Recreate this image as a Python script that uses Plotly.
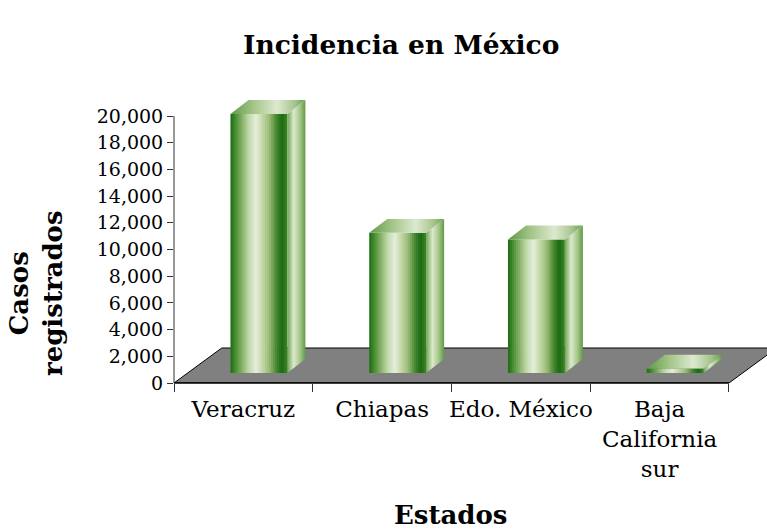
import plotly.graph_objects as go

# ---------------- data ----------------
estados = ["Veracruz", "Chiapas", "Edo. México", "Baja<br>California<br>sur"]
casos = [19400, 10500, 10000, 330]
y_ticks = [0, 2000, 4000, 6000, 8000, 10000, 12000, 14000, 16000, 18000, 20000]

titulo = "Incidencia en México"
titulo_x = "Estados"
titulo_y = "Casos<br>registrados"

# ---------------- style / geometry ----------------
FONT = "DejaVu Serif"
X_RANGE = [-0.5, 3.774]
Y_RANGE = [0, 21948]
XSHIFT = 0.112      # depth shift of bar front (category units)
BAR_W = 0.41        # bar front width (category units)
BASE = 750          # depth lift of bar front (value units)
DEPTH_X = 0.13      # bar depth, x
DEPTH_Y = 1040      # bar depth, y
FLOOR_DX = 0.344
FLOOR_DY = 2622

front_scale = [
    [0.00, "#1b6b12"], [0.07, "#3c8828"], [0.18, "#7aaa5c"], [0.32, "#c0d8a8"],
    [0.45, "#e4eedb"], [0.56, "#c4d8a8"], [0.68, "#9cbc78"], [0.80, "#4a8a32"],
    [0.90, "#1a6a10"], [1.00, "#3f8228"],
]
right_scale = [[0.0, "#6ea452"], [0.35, "#dbe9cb"], [0.7, "#a6c68a"], [1.0, "#5f9a44"]]
top_scale = [[0.0, "#5f9a45"], [0.3, "#a2c488"], [0.62, "#dde9cf"], [0.85, "#a8c690"], [1.0, "#6aa050"]]


def hex2rgb(h):
    h = h.lstrip("#")
    return tuple(int(h[i:i + 2], 16) for i in (0, 2, 4))


def sample(scale, t):
    for (p0, c0), (p1, c1) in zip(scale[:-1], scale[1:]):
        if p0 <= t <= p1:
            f = 0 if p1 == p0 else (t - p0) / (p1 - p0)
            a, b = hex2rgb(c0), hex2rgb(c1)
            return "rgb(%d,%d,%d)" % tuple(round(a[i] + (b[i] - a[i]) * f) for i in range(3))
    return scale[-1][1]


fig = go.Figure()

xpos = [i + XSHIFT for i in range(len(casos))]

# front faces: real bars, drawn as thin vertical strips to give the shaded look
N = 28
for k in range(N):
    w = BAR_W / N * (1.0 if k == N - 1 else 1.35)
    fig.add_trace(go.Bar(
        x=xpos, y=casos, base=[BASE] * len(casos),
        width=[w] * len(casos), offset=[-BAR_W / 2 + k * BAR_W / N] * len(casos),
        marker=dict(color=sample(front_scale, (k + 0.5) / N), line=dict(width=0)),
        hoverinfo="skip", showlegend=False,
    ))

# right and top faces of each bar (derived from the values)
for xc, v in zip(xpos, casos):
    xl, xr = xc - BAR_W / 2, xc + BAR_W / 2
    yb, yt = BASE, BASE + v
    fig.add_trace(go.Scatter(
        x=[xr, xr + DEPTH_X, xr + DEPTH_X, xr, xr],
        y=[yb, yb + DEPTH_Y, yt + DEPTH_Y, yt, yb],
        mode="lines", fill="toself", line=dict(width=0, color="rgba(0,0,0,0)"),
        fillgradient=dict(type="horizontal", colorscale=right_scale),
        hoverinfo="skip", showlegend=False,
    ))
    fig.add_trace(go.Scatter(
        x=[xl, xr, xr + DEPTH_X, xl + DEPTH_X, xl],
        y=[yt, yt, yt + DEPTH_Y, yt + DEPTH_Y, yt],
        mode="lines", fill="toself", line=dict(width=0, color="rgba(0,0,0,0)"),
        fillgradient=dict(type="horizontal", colorscale=top_scale),
        hoverinfo="skip", showlegend=False,
    ))

x0, x1 = -0.5, len(casos) - 0.5
floor_path = (f"M {x0},0 L {x1},0 L {x1 + FLOOR_DX},{FLOOR_DY} "
              f"L {x0 + FLOOR_DX},{FLOOR_DY} Z")

fig.update_layout(
    width=767, height=531,
    margin=dict(l=174, r=0, t=90, b=148),
    paper_bgcolor="white", plot_bgcolor="white",
    barmode="overlay",
    font=dict(family=FONT, color="black"),
    showlegend=False,
    xaxis=dict(
        range=X_RANGE, showgrid=False, zeroline=False, showline=False,
        tickmode="array", tickvals=list(range(len(estados))), ticktext=estados,
        ticks="", tickfont=dict(family=FONT, size=23, color="black"),
        ticklabelstandoff=10,
        minor=dict(tickmode="array", tickvals=[i - 0.5 for i in range(len(estados) + 1)],
                   ticks="outside", ticklen=8, tickwidth=1, tickcolor="#333"),
        fixedrange=True,
    ),
    yaxis=dict(
        range=Y_RANGE, showgrid=False, zeroline=False, showline=False,
        tickmode="array", tickvals=y_ticks, tickformat=",",
        ticks="outside", ticklen=6, tickwidth=1, tickcolor="#333",
        tickfont=dict(family=FONT, size=19, color="black"),
        fixedrange=True,
    ),
    shapes=[
        dict(type="path", xref="x", yref="y", path=floor_path,
             fillcolor="#808080", line=dict(color="black", width=1), layer="below"),
        dict(type="line", xref="x", yref="paper", x0=x0, x1=x1, y0=0, y1=0,
             line=dict(color="black", width=1.5), layer="above"),
        dict(type="line", xref="paper", yref="y", x0=0, x1=0, y0=0, y1=y_ticks[-1],
             line=dict(color="#333", width=1), layer="above"),
    ],
    annotations=[
        dict(text=f"<b>{titulo}</b>", xref="paper", yref="paper", x=0.383, y=1.1536,
             xanchor="center", yanchor="middle", showarrow=False,
             font=dict(family=FONT, size=26.5, color="black")),
        dict(text=f"<b>{titulo_x}</b>", xref="paper", yref="paper", x=0.467, y=-0.4505,
             xanchor="center", yanchor="middle", showarrow=False,
             font=dict(family=FONT, size=26, color="black")),
        dict(text=f"<b>{titulo_y}</b>", xref="paper", yref="paper", x=-0.2327, y=0.307,
             xanchor="center", yanchor="middle", showarrow=False, textangle=-90,
             font=dict(family=FONT, size=26, color="black")),
    ],
)

fig.write_html("out.html")
